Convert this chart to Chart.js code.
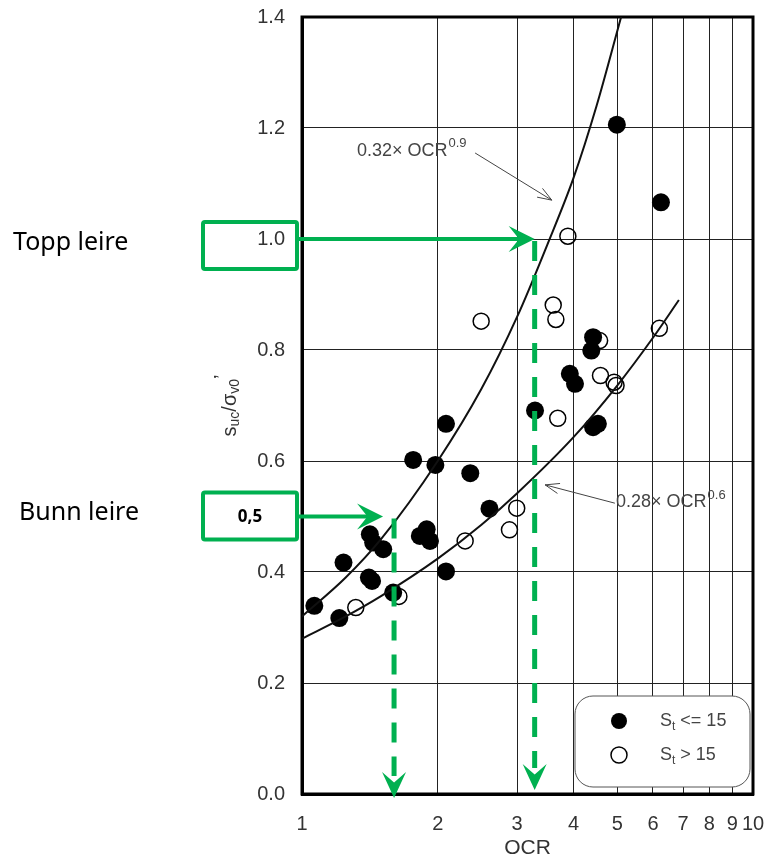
<!DOCTYPE html>
<html>
<head>
<meta charset="utf-8">
<script src="https://cdn.jsdelivr.net/npm/chart.js@4/dist/chart.umd.min.js"></script>
<style>
  html, body { margin: 0; padding: 0; background: #fff; }
  #wrap { width: 765px; height: 860px; }
</style>
</head>
<body>
<div id="wrap"><canvas id="chart" width="765" height="860"></canvas></div>
<script>
// axis ticks
const xTicks = [1, 2, 3, 4, 5, 6, 7, 8, 9, 10];
const yTicks = [0, 0.2, 0.4, 0.6, 0.8, 1.0, 1.2, 1.4];

// S_t <= 15 (filled)
const lowStOCR = [1.065, 1.21, 1.236, 1.407, 1.43, 1.414, 1.438, 1.514, 1.593, 1.764, 1.976, 2.086, 1.825, 1.89, 1.922, 2.086, 2.361, 2.604, 3.286, 3.925, 4.03, 4.42, 4.38, 4.42, 4.53, 4.99, 6.25];
const lowStRatio = [0.339, 0.317, 0.417, 0.390, 0.384, 0.468, 0.453, 0.441, 0.363, 0.602, 0.593, 0.667, 0.465, 0.477, 0.456, 0.401, 0.578, 0.514, 0.691, 0.757, 0.739, 0.823, 0.799, 0.661, 0.667, 1.206, 1.066];

// S_t > 15 (open)
const highStOCR = [1.316, 1.64, 2.30, 2.884, 2.993, 2.496, 3.606, 3.655, 3.886, 3.69, 4.57, 4.59, 4.92, 4.97, 6.2];
const highStRatio = [0.336, 0.356, 0.456, 0.476, 0.515, 0.852, 0.881, 0.855, 1.005, 0.677, 0.817, 0.754, 0.742, 0.736, 0.839];

// fitted curves
const upperFitOCR = [1, 1.25, 1.5, 2, 2.5, 3, 3.5, 4, 4.5, 5.1];
const upperFitRatio = [0.32, 0.39, 0.46, 0.60, 0.73, 0.86, 0.99, 1.11, 1.24, 1.40];
const lowerFitOCR = [1, 1.25, 1.5, 2, 2.5, 3, 4, 5, 6, 6.85];
const lowerFitRatio = [0.28, 0.32, 0.357, 0.424, 0.485, 0.542, 0.643, 0.736, 0.822, 0.89];

// green reading lines
const readLabels = ['Topp leire', 'Bunn leire'];
const readBoxText = ['1.0', '0,5'];
const readRatio = [1.0, 0.5];
const readOCR = [3.28, 1.6];

// equation callouts (OCR, ratio)
const eqText = ['0.32\u00d7 OCR', '0.28\u00d7 OCR'];
const eqSup = ['0.9', '0.6'];
const eqTextAt = [[1.324, 1.159], [4.97, 0.526]];
const eqArrowFrom = [[2.42, 1.155], [4.94, 0.524]];
const eqArrowTo = [[3.58, 1.07], [3.46, 0.557]];

const FONT = "'Liberation Sans', Arial, sans-serif";
const GREEN = '#00b050';
const TEXT = '#333';

const toPoints = (xs, ys) => xs.map((x, i) => ({ x, y: ys[i] }));

function stealthHead(ctx, tx, ty, dx, dy, len, wid) {
    const nx = -dy, ny = dx;
    ctx.beginPath();
    ctx.moveTo(tx, ty);
    ctx.lineTo(tx - dx * len + nx * wid / 2, ty - dy * len + ny * wid / 2);
    ctx.lineTo(tx - dx * len * 0.6, ty - dy * len * 0.6);
    ctx.lineTo(tx - dx * len - nx * wid / 2, ty - dy * len - ny * wid / 2);
    ctx.closePath();
    ctx.fill();
}

function roundRect(ctx, x, y, w, h, r) {
    ctx.beginPath();
    ctx.moveTo(x + r, y);
    ctx.arcTo(x + w, y, x + w, y + h, r);
    ctx.arcTo(x + w, y + h, x, y + h, r);
    ctx.arcTo(x, y + h, x, y, r);
    ctx.arcTo(x, y, x + w, y, r);
    ctx.closePath();
}

const framePlugin = {
    id: 'frame',
    beforeDatasetsDraw(chart) {
        const { ctx, chartArea: a } = chart;
        ctx.save();
        ctx.strokeStyle = '#000';
        ctx.lineWidth = 3;
        ctx.strokeRect(a.left, a.top, a.right - a.left, a.bottom - a.top);
        ctx.restore();
    }
};

const annotationPlugin = {
    id: 'annotations',
    afterDraw(chart) {
        const { ctx, chartArea: a, scales: { x, y } } = chart;
        ctx.save();

        // y axis title s_uc / sigma_v0'
        ctx.save();
        ctx.translate(230, (a.top + a.bottom) / 2);
        ctx.rotate(-Math.PI / 2);
        ctx.fillStyle = TEXT;
        ctx.textBaseline = 'middle';
        const parts = [['s', 20, 0], ['uc', 14, 5], ['/', 20, 0], ['\u03c3', 20, 0], ['v0', 14, 5], ['\u2019', 20, -8]];
        let total = 0;
        parts.forEach(p => { ctx.font = `${p[1]}px ${FONT}`; total += ctx.measureText(p[0]).width; });
        let cx = -total / 2;
        parts.forEach(p => {
            ctx.font = `${p[1]}px ${FONT}`;
            ctx.fillText(p[0], cx, p[2]);
            cx += ctx.measureText(p[0]).width;
        });
        ctx.restore();

        // x axis title
        ctx.fillStyle = TEXT;
        ctx.font = `21px ${FONT}`;
        ctx.textAlign = 'center';
        ctx.textBaseline = 'middle';
        ctx.fillText('OCR', (a.left + a.right) / 2, 848);

        // equation callouts
        eqText.forEach((t, i) => {
            const tx = x.getPixelForValue(eqTextAt[i][0]);
            const ty = y.getPixelForValue(eqTextAt[i][1]);
            ctx.fillStyle = '#444';
            ctx.textAlign = 'left';
            ctx.textBaseline = 'middle';
            ctx.font = `18px ${FONT}`;
            ctx.fillText(t, tx, ty);
            const w = ctx.measureText(t).width;
            ctx.font = `13px ${FONT}`;
            ctx.fillText(eqSup[i], tx + w + 1, ty - 7);

            const x0 = x.getPixelForValue(eqArrowFrom[i][0]);
            const y0 = y.getPixelForValue(eqArrowFrom[i][1]);
            const x1 = x.getPixelForValue(eqArrowTo[i][0]);
            const y1 = y.getPixelForValue(eqArrowTo[i][1]);
            const ang = Math.atan2(y1 - y0, x1 - x0);
            ctx.strokeStyle = '#444';
            ctx.lineWidth = 1;
            ctx.beginPath();
            ctx.moveTo(x0, y0);
            ctx.lineTo(x1, y1);
            ctx.moveTo(x1 - 15 * Math.cos(ang - 0.35), y1 - 15 * Math.sin(ang - 0.35));
            ctx.lineTo(x1, y1);
            ctx.lineTo(x1 - 15 * Math.cos(ang + 0.35), y1 - 15 * Math.sin(ang + 0.35));
            ctx.stroke();
        });

        // green reading lines
        readRatio.forEach((r, i) => {
            const py = y.getPixelForValue(r);
            const px = x.getPixelForValue(readOCR[i]);
            const boxRight = a.left - 5;
            const boxLeft = boxRight - 94;
            const boxTop = py - 17 - (i === 0 ? 0 : 7);

            // side label
            ctx.fillStyle = '#000';
            ctx.font = `25px 'Noto Sans', sans-serif`;
            ctx.textAlign = 'left';
            ctx.textBaseline = 'middle';
            ctx.fillText(readLabels[i], i === 0 ? 13 : 19, py + (i === 0 ? 4 : -4));

            // box
            ctx.strokeStyle = GREEN;
            ctx.lineWidth = 4;
            roundRect(ctx, boxLeft, boxTop, 94, 47, 2);
            ctx.stroke();
            if (i === 1) {
                ctx.fillStyle = '#000';
                ctx.font = `bold 17px 'Noto Sans', sans-serif`;
                ctx.textAlign = 'center';
                ctx.fillText(readBoxText[i], boxLeft + 47, boxTop + 25);
            }

            // horizontal arrow
            const tipX = i === 0 ? px : px - 11;
            ctx.beginPath();
            ctx.moveTo(boxRight + 2, py);
            ctx.lineTo(tipX - 12, py);
            ctx.stroke();
            ctx.fillStyle = GREEN;
            stealthHead(ctx, tipX, py, 1, 0, 26, 26);

            // dashed drop line
            const tipY = a.bottom + (i === 0 ? -4 : 4);
            ctx.lineWidth = 5;
            ctx.setLineDash([20, 14]);
            ctx.beginPath();
            ctx.moveTo(px, py + 2);
            ctx.lineTo(px, tipY - 22);
            ctx.stroke();
            ctx.setLineDash([]);
            stealthHead(ctx, px, tipY, 0, 1, 26, 24);
        });

        // legend
        const lw = 175, lh = 91;
        const lx = a.right - 3 - lw, ly = a.bottom - 7 - lh;
        ctx.fillStyle = '#fff';
        ctx.strokeStyle = '#555';
        ctx.lineWidth = 1;
        roundRect(ctx, lx, ly, lw, lh, 18);
        ctx.fill();
        ctx.stroke();
        const rows = [[true, ' <= 15'], [false, ' > 15']];
        rows.forEach((row, j) => {
            const cy = ly + 25 + j * 34;
            ctx.beginPath();
            ctx.arc(lx + 44, cy, 8, 0, Math.PI * 2);
            if (row[0]) { ctx.fillStyle = '#000'; ctx.fill(); }
            else { ctx.strokeStyle = '#000'; ctx.lineWidth = 1.5; ctx.stroke(); }
            ctx.fillStyle = '#444';
            ctx.textAlign = 'left';
            ctx.textBaseline = 'middle';
            ctx.font = `18px ${FONT}`;
            const sx = lx + 85;
            ctx.fillText('S', sx, cy);
            const sw = ctx.measureText('S').width;
            ctx.font = `12px ${FONT}`;
            ctx.fillText('t', sx + sw, cy + 6);
            const tw = ctx.measureText('t').width;
            ctx.font = `18px ${FONT}`;
            ctx.fillText(row[1], sx + sw + tw, cy);
        });

        ctx.restore();
    }
};

new Chart(document.getElementById('chart'), {
    type: 'scatter',
    data: {
        datasets: [
            { label: 'fit upper', type: 'line', data: toPoints(upperFitOCR, upperFitRatio), borderColor: '#111', borderWidth: 2, pointRadius: 0, cubicInterpolationMode: 'monotone', fill: false },
            { label: 'fit lower', type: 'line', data: toPoints(lowerFitOCR, lowerFitRatio), borderColor: '#111', borderWidth: 2, pointRadius: 0, cubicInterpolationMode: 'monotone', fill: false },
            { label: 'St <= 15', data: toPoints(lowStOCR, lowStRatio), pointRadius: 9, backgroundColor: '#000', borderColor: '#000', borderWidth: 0 },
            { label: 'St > 15', data: toPoints(highStOCR, highStRatio), pointRadius: 8, backgroundColor: 'rgba(0,0,0,0)', borderColor: '#000', borderWidth: 1.5 }
        ]
    },
    options: {
        responsive: false,
        animation: false,
        devicePixelRatio: 1,
        layout: { padding: { left: 242, top: 17, right: 12, bottom: 0 } },
        plugins: { legend: { display: false }, tooltip: { enabled: false } },
        scales: {
            x: {
                type: 'logarithmic',
                min: 1,
                max: 10,
                afterBuildTicks: s => { s.ticks = xTicks.map(v => ({ value: v })); },
                afterFit: s => { s.height = 66; s.paddingLeft = 0; s.paddingRight = 0; },
                ticks: { color: TEXT, font: { size: 20, family: FONT }, padding: 18, maxRotation: 0, autoSkip: false, callback: v => String(v) },
                grid: { color: '#222', lineWidth: 1, drawTicks: false },
                border: { color: '#000', width: 3 }
            },
            y: {
                min: 0,
                max: 1.4,
                afterBuildTicks: s => { s.ticks = yTicks.map(v => ({ value: v })); },
                afterFit: s => { s.width = 60; s.paddingTop = 0; s.paddingBottom = 0; },
                ticks: { color: TEXT, font: { size: 20, family: FONT }, padding: 17, callback: v => v.toFixed(1) },
                grid: { color: '#222', lineWidth: 1, drawTicks: false },
                border: { color: '#000', width: 3 }
            }
        }
    },
    plugins: [framePlugin, annotationPlugin]
});
</script>
</body>
</html>
